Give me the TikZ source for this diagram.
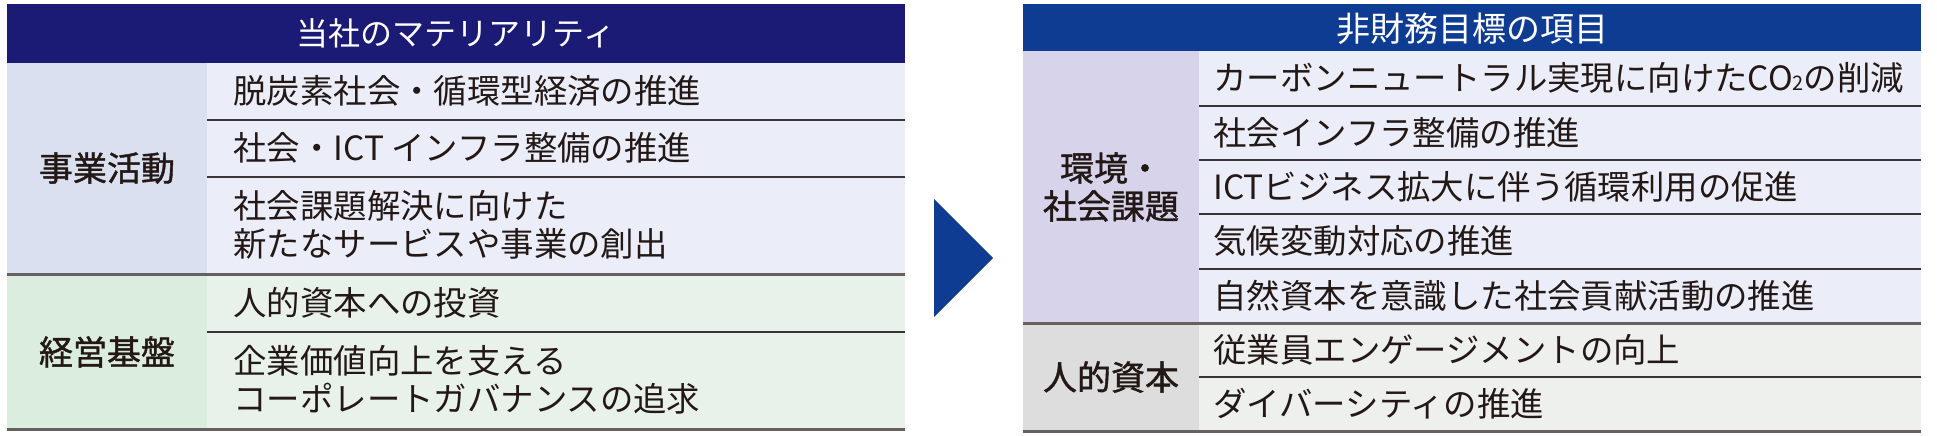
\documentclass[tikz,border=0pt]{standalone}
\usepackage{fontspec}
\setmainfont{Noto Sans CJK JP}
\newfontfamily\jpbold{Noto Sans CJK JP}[FakeBold=1.2]
\usepackage{tikz}
\definecolor{navyL}{HTML}{1B1A75}
\definecolor{blueR}{HTML}{0E3C93}
\definecolor{labA}{HTML}{DAE0EF}
\definecolor{cellA}{HTML}{EBEEF8}
\definecolor{labB}{HTML}{DBEDDF}
\definecolor{cellB}{HTML}{E8F2EA}
\definecolor{labC}{HTML}{D6D3EA}
\definecolor{labD}{HTML}{DCDDDC}
\definecolor{cellD}{HTML}{EEF0EE}
\definecolor{ink}{HTML}{231815}
\definecolor{rule}{HTML}{3A3434}
\definecolor{grp}{HTML}{666060}

\begin{document}
\begin{tikzpicture}[x=0.5pt, y=-0.5pt,
txt/.style={anchor=west, inner sep=0pt, align=left, text=ink, font=\fontsize{16.7}{19}\selectfont},
lab/.style={inner sep=0pt, align=center, text=ink, font=\jpbold\fontsize{17}{19}\selectfont},
head/.style={inner sep=0pt, text=white, font=\fontsize{16}{19}\selectfont},
rowline/.style={line width=0.75pt, draw=rule},
grpline/.style={line width=1.5pt, draw=grp}]
\useasboundingbox (0,0) rectangle (1937,435);
% left table
\fill[navyL] (7,4) rectangle (905,63);
\fill[labA] (7,63) rectangle (207,274);
\fill[cellA] (207,63) rectangle (905,274);
\fill[labB] (7,274) rectangle (207,430);
\fill[cellB] (207,274) rectangle (905,430);
\foreach \y in {120,177,332}{
\draw[rowline] (207,\y) -- (905,\y);
}
\foreach \y in {274,429}{
\draw[grpline] (7,\y) -- (905,\y);
}
\node[head] (hL) at (456,33) {当社のマテリアリティ};
\node[lab] (jigyo) at (107,168) {事業活動};
\node[lab] (keiei) at (107,352) {経営基盤};
\node[txt] (m1) at (233,91) {脱炭素社会・循環型経済の推進};
\node[txt] (m2) at (233,148) {社会・ICT インフラ整備の推進};
\node[txt] (m3) at (233,225) {社会課題解決に向けた\\新たなサービスや事業の創出};
\node[txt] (m4) at (233,303) {人的資本への投資};
\node[txt] (m5) at (233,380) {企業価値向上を支える\\コーポレートガバナンスの追求};
% arrow
\fill[blueR] (934,199) -- (993,258) -- (934,317) -- cycle;
% right table
\fill[blueR] (1023,4) rectangle (1921,51);
\fill[labC] (1023,51) rectangle (1199,323);
\fill[cellA] (1199,51) rectangle (1921,323);
\fill[labD] (1023,323) rectangle (1199,432);
\fill[cellD] (1199,323) rectangle (1921,432);
\foreach \y in {106,160,214,269,377}{
\draw[rowline] (1199,\y) -- (1921,\y);
}
\foreach \y in {323,431}{
\draw[grpline] (1023,\y) -- (1921,\y);
}
\node[head, font=\fontsize{17}{19}\selectfont] (hR) at (1472,29) {非財務目標の項目};
\node[lab] (kankyo) at (1111,187) {環境・\\社会課題};
\node[lab] (jinteki) at (1111,377) {人的資本};
\node[txt] (t1) at (1213,78) {カーボンニュートラル実現に向けたCO{\fontsize{10}{10}\selectfont 2}の削減};
\node[txt] (t2) at (1213,133) {社会インフラ整備の推進};
\node[txt] (t3) at (1213,187) {ICTビジネス拡大に伴う循環利用の促進};
\node[txt] (t4) at (1213,241) {気候変動対応の推進};
\node[txt] (t5) at (1213,296) {自然資本を意識した社会貢献活動の推進};
\node[txt] (t6) at (1213,350) {従業員エンゲージメントの向上};
\node[txt] (t7) at (1213,404) {ダイバーシティの推進};
\end{tikzpicture}
\end{document}
